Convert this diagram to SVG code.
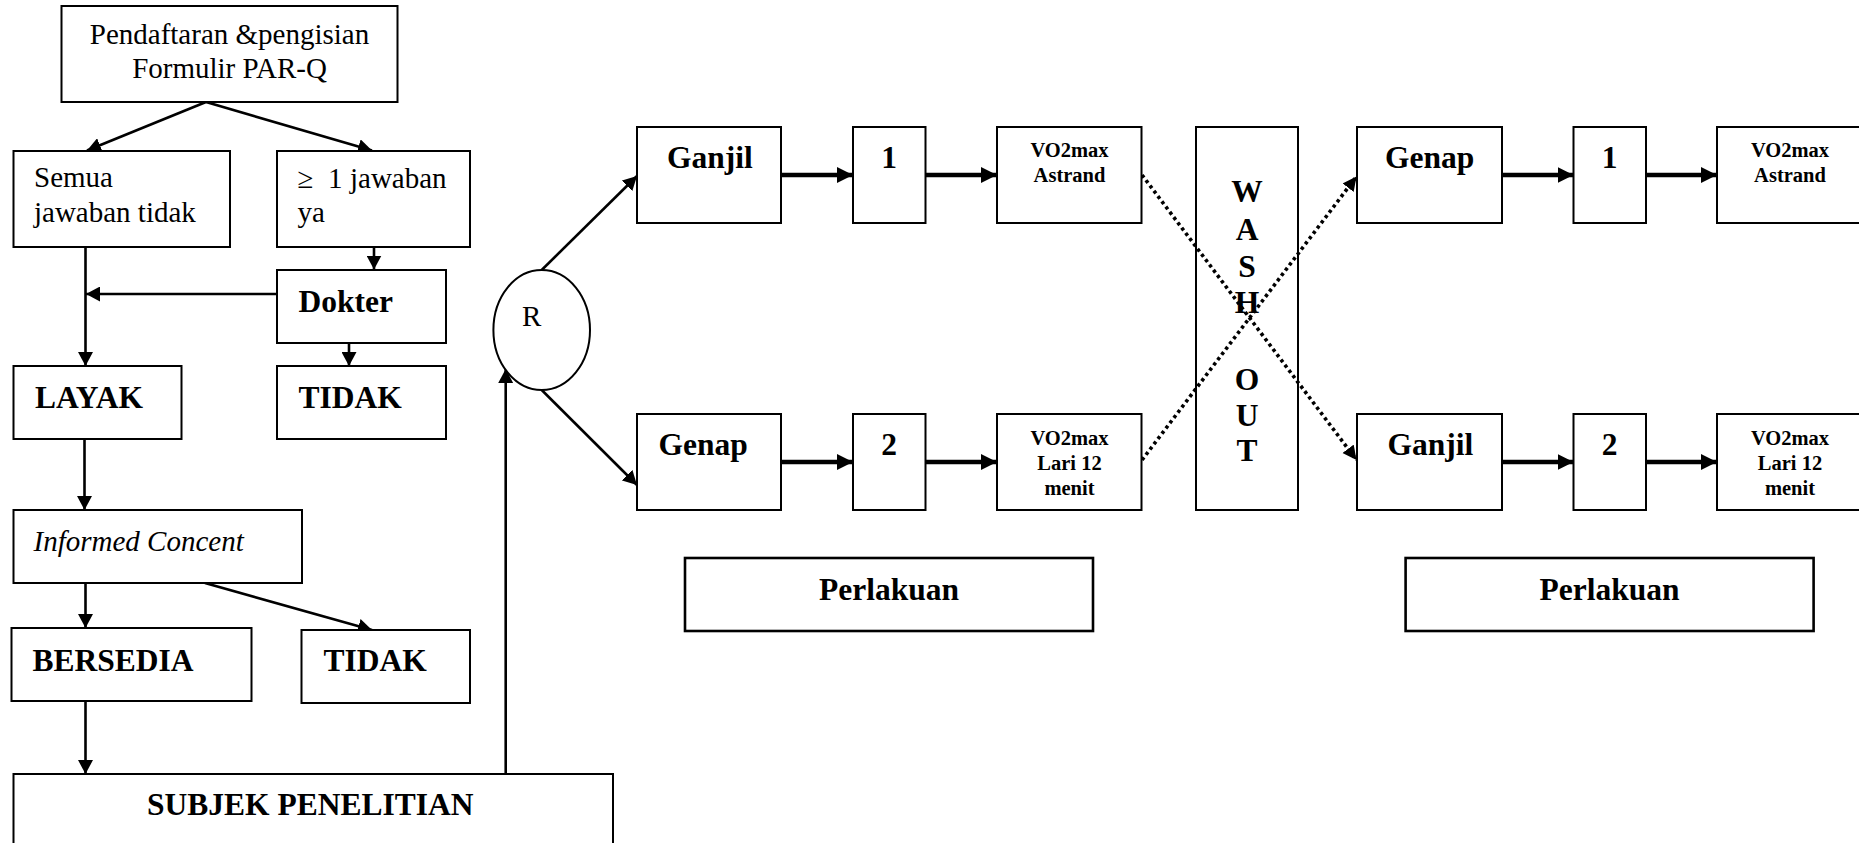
<svg xmlns="http://www.w3.org/2000/svg" width="1859" height="843" viewBox="0 0 1859 843">
<style>
.bx{fill:#fff;stroke:#000;stroke-width:2}
.pl{fill:#fff;stroke:#000;stroke-width:2.6}
.t{font-family:"Liberation Serif","Times New Roman",serif;font-size:29px;fill:#000}
.tb{font-family:"Liberation Serif","Times New Roman",serif;font-size:31.5px;font-weight:bold;fill:#000}
.ts{font-family:"Liberation Serif","Times New Roman",serif;font-size:20.5px;font-weight:bold;fill:#000}
.c{text-anchor:middle}
.ln{fill:none;stroke:#000;stroke-width:2.6}
.lt{fill:none;stroke:#000;stroke-width:4.5}
.ld{fill:none;stroke:#000;stroke-width:3.6;stroke-dasharray:3.3 3.3}
</style>
<defs>
<marker id="a" markerUnits="userSpaceOnUse" markerWidth="15" markerHeight="15" refX="14" refY="7.5" orient="auto"><path d="M0,0 L14,7.5 L0,15 z" fill="#000"/></marker>
<marker id="b" markerUnits="userSpaceOnUse" markerWidth="17" markerHeight="17" refX="16" refY="8" orient="auto"><path d="M0,0 L16,8 L0,16 z" fill="#000"/></marker>
<marker id="d" markerUnits="userSpaceOnUse" markerWidth="15" markerHeight="15" refX="14" refY="7" orient="auto"><path d="M0,0 L14,7 L0,14 z" fill="#000"/></marker>
</defs>

<g id="connectors">
<line class="ln" x1="206" y1="102" x2="87" y2="150.5" marker-end="url(#a)"/>
<line class="ln" x1="206" y1="102" x2="372" y2="150.5" marker-end="url(#a)"/>
<line class="ln" x1="374" y1="247" x2="374" y2="269.5" marker-end="url(#a)"/>
<line class="ln" x1="85.5" y1="247" x2="85.5" y2="366" marker-end="url(#a)"/>
<line class="ln" x1="277" y1="294" x2="86" y2="294" marker-end="url(#a)"/>
<line class="ln" x1="349" y1="343" x2="349" y2="366" marker-end="url(#a)"/>
<line class="ln" x1="84.5" y1="439" x2="84.5" y2="510" marker-end="url(#a)"/>
<line class="ln" x1="85.5" y1="583" x2="85.5" y2="628" marker-end="url(#a)"/>
<line class="ln" x1="205" y1="583" x2="372" y2="630" marker-end="url(#a)"/>
<line class="ln" x1="85.5" y1="701" x2="85.5" y2="774" marker-end="url(#a)"/>
<line class="ln" x1="505.7" y1="774" x2="505.7" y2="369" marker-end="url(#a)"/>
<line class="ln" x1="541.7" y1="270" x2="637" y2="176" marker-end="url(#a)"/>
<line class="ln" x1="541.7" y1="390" x2="637" y2="485" marker-end="url(#a)"/>
<line class="lt" x1="781" y1="175" x2="853" y2="175" marker-end="url(#b)"/>
<line class="lt" x1="925.5" y1="175" x2="997" y2="175" marker-end="url(#b)"/>
<line class="lt" x1="781" y1="462" x2="853" y2="462" marker-end="url(#b)"/>
<line class="lt" x1="925.5" y1="462" x2="997" y2="462" marker-end="url(#b)"/>
<line class="lt" x1="1502" y1="175" x2="1573.5" y2="175" marker-end="url(#b)"/>
<line class="lt" x1="1646" y1="175" x2="1717" y2="175" marker-end="url(#b)"/>
<line class="lt" x1="1502" y1="462" x2="1573.5" y2="462" marker-end="url(#b)"/>
<line class="lt" x1="1646" y1="462" x2="1717" y2="462" marker-end="url(#b)"/>
<line class="ld" x1="1142" y1="175" x2="1356.5" y2="460" marker-end="url(#d)"/>
<line class="ld" x1="1142" y1="460" x2="1356.5" y2="176.5" marker-end="url(#d)"/>
</g>

<g id="n-daftar"><rect class="bx" x="61.5" y="6" width="336" height="96"/>
<text class="t c" x="229.5" y="44">Pendaftaran &amp;pengisian</text>
<text class="t c" x="229.5" y="78">Formulir PAR-Q</text></g>

<g id="n-semua"><rect class="bx" x="13.5" y="151" width="216.5" height="96"/>
<text class="t" x="34" y="187">Semua</text>
<text class="t" x="34" y="222">jawaban tidak</text></g>

<g id="n-ya"><rect class="bx" x="277" y="151" width="193" height="96"/>
<text class="t" y="188"><tspan x="297.5">≥</tspan><tspan x="328">1</tspan><tspan x="350">jawaban</tspan></text>
<text class="t" x="297.5" y="222">ya</text></g>

<g id="n-dokter"><rect class="bx" x="277" y="270" width="169" height="73"/>
<text class="tb" x="298.5" y="311.5">Dokter</text></g>

<g id="n-layak"><rect class="bx" x="13.5" y="366" width="168" height="73"/>
<text class="tb" x="35" y="407.5">LAYAK</text></g>

<g id="n-tidak1"><rect class="bx" x="277" y="366" width="169" height="73"/>
<text class="tb" x="298.5" y="407.5">TIDAK</text></g>

<g id="n-informed"><rect class="bx" x="13.5" y="510" width="288.5" height="73"/>
<text class="t" x="33.5" y="551" font-style="italic">Informed Concent</text></g>

<g id="n-bersedia"><rect class="bx" x="11.5" y="628" width="240" height="73"/>
<text class="tb" x="32.4" y="670.5">BERSEDIA</text></g>

<g id="n-tidak2"><rect class="bx" x="301.5" y="630" width="168.5" height="73"/>
<text class="tb" x="323.4" y="671">TIDAK</text></g>

<g id="n-subjek"><rect class="bx" x="13.5" y="774" width="599.5" height="80"/>
<text class="tb" x="147" y="815">SUBJEK PENELITIAN</text></g>

<g id="n-r"><ellipse class="bx" cx="541.7" cy="330" rx="48.3" ry="60"/>
<text class="t" x="522" y="325.5">R</text></g>

<g id="n-ganjil1"><rect class="bx" x="637" y="127" width="144" height="96"/>
<text class="tb" x="667" y="168">Ganjil</text></g>
<g id="n-one1"><rect class="bx" x="853" y="127" width="72.5" height="96"/>
<text class="tb c" x="889" y="168">1</text></g>
<g id="n-vo2a1"><rect class="bx" x="997" y="127" width="144.5" height="96"/>
<text class="ts c" x="1069.5" y="156.5">VO2max</text>
<text class="ts c" x="1069.5" y="182">Astrand</text></g>

<g id="n-genap1"><rect class="bx" x="637" y="414" width="144" height="96"/>
<text class="tb" x="658.5" y="455">Genap</text></g>
<g id="n-two1"><rect class="bx" x="853" y="414" width="72.5" height="96"/>
<text class="tb c" x="889" y="455">2</text></g>
<g id="n-vo2l1"><rect class="bx" x="997" y="414" width="144.5" height="96"/>
<text class="ts c" x="1069.5" y="445">VO2max</text>
<text class="ts c" x="1069.5" y="469.5">Lari 12</text>
<text class="ts c" x="1069.5" y="494.5">menit</text></g>

<g id="n-washout"><rect x="1196" y="127" width="102" height="383" fill="none" stroke="#000" stroke-width="2"/>
<text class="tb c" x="1247" y="202">W</text>
<text class="tb c" x="1247" y="240">A</text>
<text class="tb c" x="1247" y="277">S</text>
<text class="tb c" x="1247" y="313">H</text>
<text class="tb c" x="1247" y="390">O</text>
<text class="tb c" x="1247" y="426">U</text>
<text class="tb c" x="1247" y="461">T</text></g>

<g id="n-genap2"><rect class="bx" x="1357" y="127" width="145" height="96"/>
<text class="tb" x="1385" y="168">Genap</text></g>
<g id="n-one2"><rect class="bx" x="1573.5" y="127" width="72.5" height="96"/>
<text class="tb c" x="1609.7" y="168">1</text></g>
<g id="n-vo2a2"><rect class="bx" x="1717" y="127" width="160" height="96"/>
<text class="ts c" x="1790" y="156.5">VO2max</text>
<text class="ts c" x="1790" y="182">Astrand</text></g>

<g id="n-ganjil2"><rect class="bx" x="1357" y="414" width="145" height="96"/>
<text class="tb" x="1387.5" y="455">Ganjil</text></g>
<g id="n-two2"><rect class="bx" x="1573.5" y="414" width="72.5" height="96"/>
<text class="tb c" x="1609.7" y="455">2</text></g>
<g id="n-vo2l2"><rect class="bx" x="1717" y="414" width="160" height="96"/>
<text class="ts c" x="1790" y="445">VO2max</text>
<text class="ts c" x="1790" y="469.5">Lari 12</text>
<text class="ts c" x="1790" y="494.5">menit</text></g>

<g id="n-perlakuan1"><rect class="pl" x="685" y="558" width="408" height="73"/>
<text class="tb c" x="889" y="600">Perlakuan</text></g>
<g id="n-perlakuan2"><rect class="pl" x="1405.6" y="558" width="408" height="73"/>
<text class="tb c" x="1609.6" y="600">Perlakuan</text></g>
</svg>
